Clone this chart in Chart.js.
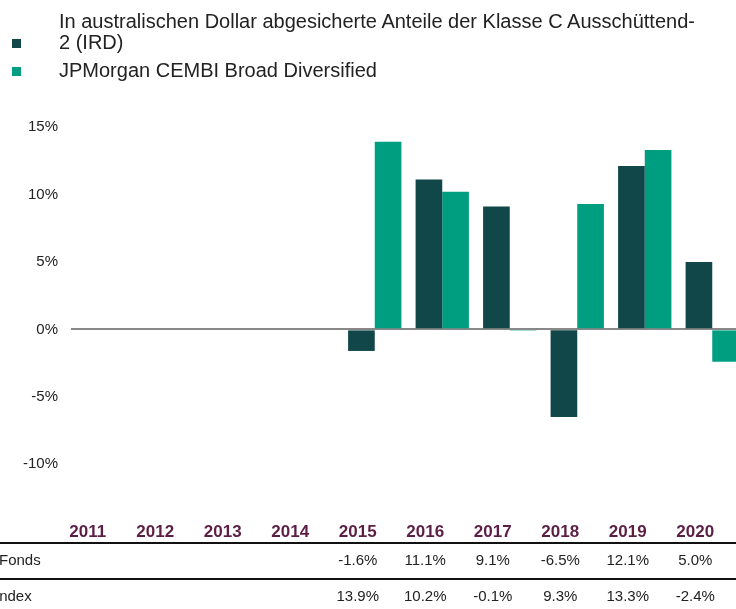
<!DOCTYPE html>
<html>
<head>
<meta charset="utf-8">
<script src="https://cdn.jsdelivr.net/npm/chart.js@4"></script>
<style>
  html, body { margin: 0; padding: 0; width: 736px; height: 609px; overflow: hidden; background: #fff; }
  #wrap { position: relative; width: 736px; height: 609px; overflow: hidden; }
  #chart { position: absolute; left: 0; top: 0; }
  #legend { position: absolute; left: 0; top: 11px; font-family: "Liberation Sans", Arial, sans-serif; font-size: 20px; line-height: 21px; color: #222; }
  .item { display: flex; align-items: flex-end; margin-bottom: 7px; }
  .sw { width: 9px; height: 9px; margin: 0 38px 5px 12px; flex: none; }
  .txt { width: 641px; }
</style>
</head>
<body>
<div id="wrap">
  <canvas id="chart" width="750" height="609"></canvas>
  <div id="legend"></div>
</div>
<script>
const years = ['2011', '2012', '2013', '2014', '2015', '2016', '2017', '2018', '2019', '2020'];
const fundValues = [null, null, null, null, -1.6, 11.1, 9.1, -6.5, 12.1, 5.0];
const indexValues = [null, null, null, null, 13.9, 10.2, -0.1, 9.3, 13.3, -2.4];
const yTicks = [-10, -5, 0, 5, 10, 15];
// \u200B lets the first name break after the hyphen like the original
const seriesNames = ['In australischen Dollar abgesicherte Anteile der Klasse C Ausschüttend-\u200B2 (IRD)', 'JPMorgan CEMBI Broad Diversified'];
const rowNames = ['Fonds', 'Index'];
const colors = ['#12474a', '#009e80'];

const font = '"Liberation Sans", Arial, sans-serif';

// legend
const legend = document.getElementById('legend');
seriesNames.forEach((name, i) => {
    const item = document.createElement('div');
    item.className = 'item';
    item.innerHTML = '<span class="sw" style="background:' + colors[i] + '"></span><span class="txt"></span>';
    item.querySelector('.txt').textContent = name;
    legend.appendChild(item);
});

const fmt = v => v.toFixed(1) + '%';

// table under the chart, drawn from the same x scale
const tablePlugin = {
    id: 'table',
    afterDraw(chart) {
        const ctx = chart.ctx;
        const xs = chart.scales.x;
        ctx.save();
        ctx.fillStyle = '#111';
        ctx.fillRect(0, 542, chart.width, 2);
        ctx.fillRect(0, 578, chart.width, 2);
        ctx.font = '15px ' + font;
        ctx.fillStyle = '#222';
        ctx.textBaseline = 'middle';
        ctx.textAlign = 'left';
        ctx.fillText(rowNames[0], -1, 561);
        ctx.fillText(rowNames[1], -5, 597);
        ctx.textAlign = 'center';
        [fundValues, indexValues].forEach((row, r) => {
            row.forEach((v, i) => {
                if (v === null) return;
                ctx.fillText(fmt(v), xs.getPixelForValue(i) - 17, r === 0 ? 561 : 597);
            });
        });
        ctx.restore();
    }
};

new Chart(document.getElementById('chart'), {
    type: 'bar',
    data: {
        labels: years,
        datasets: [
            { label: seriesNames[0], data: fundValues, backgroundColor: colors[0] },
            { label: seriesNames[1], data: indexValues, backgroundColor: colors[1] }
        ]
    },
    options: {
        responsive: false,
        animation: false,
        categoryPercentage: 0.79,
        barPercentage: 1,
        layout: { padding: { top: 127, right: 4, bottom: 0, left: 0 } },
        plugins: {
            legend: { display: false },
            tooltip: { enabled: false }
        },
        scales: {
            x: {
                grid: { display: false },
                border: { display: false },
                ticks: {
                    color: '#5c1e44',
                    font: { family: font, size: 17, weight: 'bold' },
                    padding: 16,
                    labelOffset: -17,
                    maxRotation: 0,
                    autoSkip: false
                },
                afterFit(scale) { scale.height = 111; }
            },
            y: {
                min: -12.5,
                max: 15,
                afterBuildTicks(scale) { scale.ticks = yTicks.map(v => ({ value: v })); },
                grid: {
                    color: c => c.tick && c.tick.value === 0 ? '#888' : 'rgba(0,0,0,0)',
                    lineWidth: 2,
                    drawTicks: false
                },
                border: { display: false },
                ticks: {
                    color: '#222',
                    font: { family: font, size: 15 },
                    padding: 13,
                    callback: v => v + '%'
                },
                afterFit(scale) { scale.width = 71; }
            }
        }
    },
    plugins: [tablePlugin]
});
</script>
</body>
</html>
